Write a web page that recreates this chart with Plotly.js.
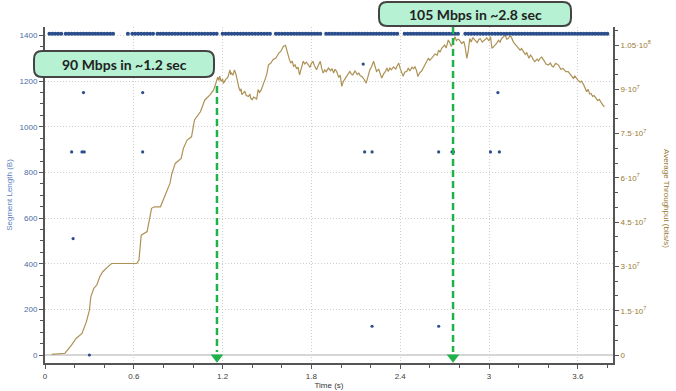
<!DOCTYPE html>
<html>
<head>
<meta charset="utf-8">
<script src="https://cdn.plot.ly/plotly-3.0.1.min.js"></script>
<style>html,body{margin:0;padding:0;background:#fff;}#chart{width:676px;height:391px;}</style>
</head>
<body>
<div id="chart"></div>
<script>
// ---- Data ----
// Average throughput (Mbit/s) over time (s)
const thrTime = [0.045,0.135,0.18,0.21,0.25,0.28,0.30,0.31,0.33,0.35,0.37,0.39,0.43,0.45,0.62,0.635,0.65,0.69,0.72,0.74,0.78,0.81,0.845,0.855,0.88,0.92,0.935,0.96,0.99,1.01,1.05,1.08,1.115,1.14,
 1.167,1.175,1.18,1.19,1.2,1.205,1.215,1.22,1.235,1.245,1.25,1.255,1.26,1.27,1.28,1.29,1.30,1.31,1.32,1.325,1.33,1.34,1.35,1.36,1.375,1.385,1.39,1.40,1.41,1.42,1.43,1.44,1.45,1.46,1.475,1.49,1.50,1.51,1.525,1.54,1.56,1.58,1.595,1.61,1.625,1.632,1.64,1.65,1.66,1.67,1.68,1.69,1.70,1.71,1.72,1.73,1.745,1.755,1.765,1.78,1.79,1.80,1.81,1.82,1.835,1.845,1.86,1.87,1.88,1.89,1.9,1.915,1.93,1.94,1.95,1.96,1.97,1.985,1.995,2.005,2.015,2.03,2.045,2.06,2.07,2.08,2.095,2.11,2.12,2.13,2.14,2.155,2.17,2.18,2.195,2.205,2.22,2.23,2.24,2.255,2.265,2.275,2.29,2.30,2.31,2.32,2.33,2.34,2.355,2.37,2.38,2.39,2.40,2.42,2.43,2.445,2.455,2.465,2.48,2.49,2.50,2.51,2.52,2.53,2.545,2.56,2.57,2.58,2.59,2.60,2.61,2.62,2.635,2.65,2.66,2.67,2.68,2.69,2.70,2.71,2.725,2.735,2.745,2.75,2.76,2.77,2.78,2.79,2.80,2.815,2.83,2.84,2.85,2.86,2.87,2.88,2.89,2.905,2.92,2.93,2.94,2.955,2.97,2.985,3.0,3.01,3.02,3.035,3.05,3.065,3.075,3.085,3.095,3.11,3.12,3.13,3.14,3.15,3.165,3.18,3.195,3.21,3.22,3.23,3.245,3.255,3.27,3.28,3.29,3.30,3.31,3.325,3.335,3.345,3.355,3.37,3.385,3.40,3.415,3.425,3.435,3.45,3.46,3.47,3.485,3.50,3.51,3.52,3.535,3.55,3.56,3.57,3.58,3.59,3.60,3.615,3.625,3.64,3.65,3.66,3.67,3.68,3.69,3.70,3.71,3.725,3.735,3.745,3.76,3.77,3.78];
const thrMbps = [0.2,0.6,3.4,5.6,7.3,11.3,15.2,19.8,22.6,23.7,26.5,28.2,30.1,31.0,31.0,32.2,40.6,41.8,49.7,50.2,50.2,54.2,58.2,61.0,64.9,66.6,70.0,72.8,73.9,79.6,82.4,86.4,88.1,89.8,
 94.1,93.0,94.5,92.7,93.5,92.0,92.8,93.3,94.0,95.8,96.6,95.0,95.5,94.8,96.6,95.2,92.7,90.5,89.3,90.2,88.2,88.8,89.3,87.9,87.6,88.4,87.0,86.5,87.4,87.1,86.6,89.9,89.0,89.7,91.5,93.8,95.5,98.3,98.8,100.0,100.6,102.3,103.0,104.5,104.9,103.5,101.7,100.3,98.9,99.6,97.8,98.3,96.9,97.5,94.9,96.8,99.5,98.6,99.2,98.3,97.4,98.8,99.5,98.1,96.6,97.9,99.5,97.0,95.5,96.6,96.0,97.2,96.3,97.0,95.5,96.8,96.1,94.0,94.8,91.0,92.6,93.8,95.0,96.1,95.2,94.9,96.2,95.0,95.5,94.6,94.4,93.5,92.1,94.0,96.6,97.5,99.5,97.8,96.1,96.8,95.0,93.8,95.4,96.0,97.2,96.0,97.3,96.6,97.6,96.9,98.0,98.9,97.0,94.4,95.8,96.1,97.2,96.2,97.5,97.0,97.6,96.4,94.3,95.5,96.2,97.6,98.6,99.2,100.5,99.8,100.6,101.0,102.0,101.6,103.3,102.6,103.9,104.4,105.0,104.0,106.7,105.8,104.5,105.0,106.4,107.8,106.5,107.0,106.7,105.5,106.2,104.0,100.5,103.0,107.2,106.0,107.5,106.7,105.8,106.8,107.2,106.0,106.7,107.4,106.4,107.8,103.9,104.6,105.5,106.6,106.0,107.2,107.8,108.4,107.0,107.2,108.0,107.8,106.0,105.0,104.2,103.3,103.8,102.8,101.8,102.4,100.5,101.6,101.0,100.0,99.4,100.2,99.6,100.5,100.9,99.9,98.6,98.2,98.9,97.9,97.6,98.8,98.5,98.2,96.8,97.1,96.5,96.0,96.0,95.0,94.6,93.7,94.5,93.6,93.2,92.4,92.8,91.5,90.6,89.2,90.0,88.4,88.6,87.6,87.9,86.9,86.2,86.6,85.3,84.6,84.1];

// Segment lengths (bytes): full-size segments row
const fullSegLength = 1408;
const fullSegTime = [0.03,0.05,0.07,0.09,0.11,
 0.14,0.16,0.18,0.20,0.22,0.24,0.26,0.28,0.30,0.32,0.34,0.36,0.38,0.40,0.42,0.44,0.46,
 0.56,
 0.59,0.61,0.63,0.65,0.67,0.69,0.71,0.73,
 0.76,0.78,0.80,0.82,0.84,0.86,0.88,0.90,0.92,0.94,0.96,0.98,1.00,1.02,1.04,1.06,1.08,1.10,1.12,1.14,1.16,
 1.20,1.22,1.24,1.26,1.28,1.30,1.32,1.34,1.36,1.38,1.40,1.42,1.44,1.46,1.48,1.50,1.52,1.56,1.58,1.60,1.62,1.64,1.66,1.68,1.70,1.72,1.74,1.76,1.78,1.80,1.82,1.84,1.86,1.90,1.92,1.94,1.96,1.98,2.00,2.02,2.04,2.06,2.08,2.10,2.12,2.14,2.16,2.18,2.20,2.22,2.24,2.26,2.28,2.30,2.32,2.34,2.36,2.38,2.43,2.45,2.47,2.49,2.51,2.53,2.55,2.57,2.59,2.61,2.63,2.65,2.67,2.69,2.71,2.73,2.75,2.77,2.79,
 2.84,2.86,2.88,2.90,2.92,2.94,2.96,2.98,3.00,3.02,3.04,3.06,3.08,3.10,3.12,3.14,3.16,3.18,3.20,3.22,3.24,3.26,3.28,3.30,3.32,3.34,3.36,3.38,3.40,3.42,3.44,3.46,3.48,3.50,3.52,3.54,3.56,3.58,3.60,3.62,3.64,3.66,3.68,3.70,3.72,3.74,3.76,3.78,3.80];
// Other (short) segments
const otherSegTime   = [0.26,0.66,2.15,3.06,0.18,0.25,0.265,0.66,2.16,2.21,2.66,2.75,2.76,3.01,3.07,0.19,0.30,2.21,2.66];
const otherSegLength = [1150,1150,1275,1150,890,890,890,890,890,890,890,890,890,890,890,510,0,126,126];

// Callouts
const calloutText = ["90 Mbps in ~1.2 sec", "105 Mbps in ~2.8 sec"];
const calloutTime = [1.162, 2.757];

// Right-axis tick labels
const thrTickVals = [0,15,30,45,60,75,90,105];
const thrTickText = ["0","1.5·10<sup>7</sup>","3·10<sup>7</sup>","4.5·10<sup>7</sup>","6·10<sup>7</sup>","7.5·10<sup>7</sup>","9·10<sup>7</sup>","1.05·10<sup>8</sup>"];

// ---- Layout helpers (pixel -> paper) ----
const W = 676, H = 391, ML = 45, MR = 63, MT = 27, MB = 28;
const PW = W - ML - MR, PH = H - MT - MB;
const ZERO_PX = 355; // pixel row of the zero line
const px2p = px => (px - ML) / PW;
const py2p = py => (H - MB - py) / PH;
function rbox(x0, y0, x1, y1, r) {
  const X = px2p, Y = py2p;
  return `M${X(x0+r)},${Y(y0)} L${X(x1-r)},${Y(y0)} Q${X(x1)},${Y(y0)} ${X(x1)},${Y(y0+r)} ` +
         `L${X(x1)},${Y(y1-r)} Q${X(x1)},${Y(y1)} ${X(x1-r)},${Y(y1)} ` +
         `L${X(x0+r)},${Y(y1)} Q${X(x0)},${Y(y1)} ${X(x0)},${Y(y1-r)} ` +
         `L${X(x0)},${Y(y0+r)} Q${X(x0)},${Y(y0)} ${X(x0+r)},${Y(y0)} Z`;
}

const BLUE_DOT = '#2a4d8c', GREEN = '#1fb14a', LINE = '#ad9255';
const tickFont = {family: 'Liberation Sans, Arial, sans-serif', size: 8};
const GRID_DASH = '1px,2px';

const traces = [
  {x: thrTime, y: thrMbps, type: 'scatter', mode: 'lines', yaxis: 'y',
   line: {color: LINE, width: 1.2}, hoverinfo: 'skip'},
  {x: fullSegTime, y: fullSegTime.map(() => fullSegLength), type: 'scatter', mode: 'markers', yaxis: 'y2',
   marker: {color: BLUE_DOT, size: 4}, hoverinfo: 'skip'},
  {x: otherSegTime, y: otherSegLength, type: 'scatter', mode: 'markers', yaxis: 'y2',
   marker: {color: BLUE_DOT, size: 3.2}, hoverinfo: 'skip'},
  {x: calloutTime, y: [-10, -10], type: 'scatter', mode: 'markers', yaxis: 'y2',
   marker: {color: GREEN, size: 11, symbol: 'triangle-down'}, hoverinfo: 'skip', cliponaxis: false}
];

const layout = {
  width: W, height: H,
  margin: {l: ML, r: MR, t: MT, b: MB, pad: 0},
  paper_bgcolor: '#fff', plot_bgcolor: '#fff',
  showlegend: false,
  font: {family: 'Liberation Sans, Arial, sans-serif'},
  xaxis: {
    range: [0, PW / 148], tick0: 0, dtick: 0.6, ticks: 'outside', ticklen: 4, tickcolor: '#555',
    minor: {dtick: 0.2, tick0: 0, ticks: 'outside', ticklen: 3, tickcolor: '#555', showgrid: false},
    showline: true, linecolor: '#555', linewidth: 2,
    showgrid: true, gridcolor: '#cfcfcf', griddash: GRID_DASH, gridwidth: 1, zeroline: false,
    tickfont: Object.assign({color: '#404040'}, tickFont),
    title: {text: 'Time (s)', font: {size: 8, color: '#333'}, standoff: 3}
  },
  yaxis: { // throughput, right side (base axis so the dots draw above the line)
    side: 'right', range: [-(H - MB - ZERO_PX) / 2.952, (ZERO_PX - MT) / 2.952],
    tickmode: 'array', tickvals: thrTickVals, ticktext: thrTickText,
    ticks: 'outside', ticklen: 4, tickcolor: '#555',
    minor: {dtick: 5, tick0: 0, ticks: 'outside', ticklen: 3, tickcolor: '#555', showgrid: false},
    showline: true, linecolor: '#555', linewidth: 2, showgrid: false, zeroline: false,
    tickfont: Object.assign({color: '#9a7a35'}, tickFont)
  },
  yaxis2: { // segment length, left
    overlaying: 'y', side: 'left', range: [-(H - MB - ZERO_PX) / 0.2282, (ZERO_PX - MT) / 0.2282],
    tick0: 0, dtick: 200, ticks: 'outside', ticklen: 4, tickcolor: '#555',
    minor: {dtick: 50, tick0: 0, ticks: 'outside', ticklen: 3, tickcolor: '#555', showgrid: false},
    showline: true, linecolor: '#555', linewidth: 2,
    showgrid: true, gridcolor: '#cfcfcf', griddash: GRID_DASH, gridwidth: 1,
    zeroline: true, zerolinecolor: '#d6d6d6', zerolinewidth: 2,
    tickfont: Object.assign({color: '#4a6ca6'}, tickFont),
    title: {text: 'Segment Length (B)', font: {size: 8, color: '#5a7fbf'}, standoff: 6}
  },
  shapes: [
    {type: 'line', xref: 'x', yref: 'paper', x0: calloutTime[0], x1: calloutTime[0], y0: py2p(86), y1: py2p(352),
     line: {color: GREEN, width: 2.5, dash: '7px,4px'}, layer: 'above'},
    {type: 'line', xref: 'x', yref: 'paper', x0: calloutTime[1], x1: calloutTime[1], y0: py2p(27), y1: py2p(352),
     line: {color: GREEN, width: 2.5, dash: '7px,4px'}, layer: 'above'},
    {type: 'path', xref: 'paper', yref: 'paper', path: rbox(34, 51, 214, 77, 8),
     fillcolor: '#b5f1d2', line: {color: '#444', width: 2}, layer: 'above'},
    {type: 'path', xref: 'paper', yref: 'paper', path: rbox(379, 2, 571, 26, 8),
     fillcolor: '#b5f1d2', line: {color: '#444', width: 2}, layer: 'above'}
  ],
  annotations: [
    {xref: 'paper', yref: 'paper', x: px2p(124), y: py2p(64.5), text: calloutText[0], showarrow: false,
     xanchor: 'center', yanchor: 'middle', font: {family: 'Lato, sans-serif', size: 14, color: '#222', weight: 'bold'}},
    {xref: 'paper', yref: 'paper', x: px2p(475), y: py2p(14.5), text: calloutText[1], showarrow: false,
     xanchor: 'center', yanchor: 'middle', font: {family: 'Lato, sans-serif', size: 14, color: '#222', weight: 'bold'}},
    {xref: 'paper', yref: 'paper', x: px2p(667), y: py2p(198), text: 'Average Throughput (bits/s)', showarrow: false,
     textangle: 90, xanchor: 'center', yanchor: 'middle', font: {size: 8, color: '#9a7a35'}}
  ]
};

Plotly.newPlot('chart', traces, layout, {displayModeBar: false, staticPlot: true});
</script>
</body>
</html>
